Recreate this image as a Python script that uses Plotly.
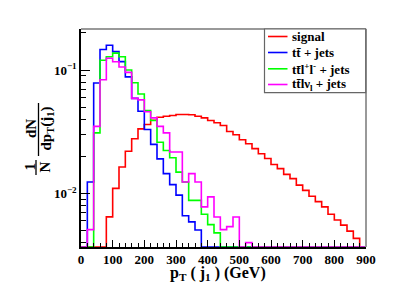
import plotly.graph_objects as go
import math

# ---------------- data ----------------
bin_edges = [20 * i for i in range(46)]  # 0..900 GeV, 20 GeV bins

signal = [0, 0, 0, 0, 0.00647, 0.0110, 0.0164, 0.0220, 0.0278, 0.0334,
          0.0362, 0.0392, 0.0415, 0.0423, 0.0428, 0.0436, 0.0436, 0.0434, 0.0423, 0.0410,
          0.0390, 0.0374, 0.0356, 0.0318, 0.0299, 0.0273, 0.0253, 0.0231, 0.0210, 0.0192,
          0.0172, 0.0159, 0.0143, 0.0132, 0.0117, 0.0106, 0.0095, 0.0086, 0.0078, 0.0068,
          0.0061, 0.00555, 0.00496, 0.00433, 0]

ttbar = [0, 0.0124, 0.0786, 0.1466, 0.159, 0.141, 0.117, 0.088, 0.059, 0.0464,
         0.033, 0.025, 0.0191, 0.0145, 0.0118, 0.0097, 0.0066, 0.0059, 0.00506, 0,
         0, 0, 0, 0, 0, 0, 0, 0, 0, 0,
         0, 0, 0, 0, 0, 0, 0, 0, 0, 0,
         0, 0, 0, 0, 0]

ttll = [0, 0, 0.031, 0.120, 0.128, 0.137, 0.128, 0.100, 0.079, 0.064,
        0.047, 0.039, 0.026, 0.0223, 0.0195, 0.0149, 0.0124, 0.0088, 0.0088, 0.0068,
        0.0056, 0.0048, 0, 0, 0, 0, 0, 0, 0, 0,
        0, 0, 0, 0, 0, 0, 0, 0, 0, 0,
        0, 0, 0, 0, 0]

ttlv = [0, 0.0051, 0.035, 0.0835, 0.1245, 0.1166, 0.106, 0.0957, 0.059, 0.0573,
        0.046, 0.041, 0.035, 0.031, 0.0217, 0.0217, 0.0124, 0.0145, 0.0124, 0.0078,
        0.0094, 0.00645, 0.0051, 0.0054, 0.00645, 0, 0.0040, 0, 0, 0,
        0, 0, 0, 0, 0, 0, 0, 0, 0, 0,
        0, 0, 0, 0, 0]

series_names = ["signal", "tt\u0304 + jets",
                "tt\u0304l<sup>+</sup>l<sup>-</sup> + jets",
                "tt\u0304l\u03bd<sub>l</sub> + jets"]
series_colors = ["#ff0000", "#0000ff", "#00ff00", "#ff00ff"]

x_tick_vals = [0, 100, 200, 300, 400, 500, 600, 700, 800, 900]
y_tick_vals = [0.01, 0.1]
y_tick_text = ["10<sup>\u22122</sup>", "10<sup>\u22121</sup>"]
y_minor_vals = [0.004, 0.005, 0.006, 0.007, 0.008, 0.009,
                0.02, 0.03, 0.04, 0.05, 0.06, 0.07, 0.08, 0.09, 0.2]

y_min, y_max = 0.00369, 0.215

# ---------------- layout geometry ----------------
W, H = 407, 291
L, T, PW, PH = 81, 29, 285, 218
R, B = W - L - PW, H - T - PH
FONT = "Liberation Serif"


def px(xp):
    return (xp - L) / PW


def py(yp):
    return (T + PH - yp) / PH


fig = go.Figure()
for vals, name, col in zip([signal, ttbar, ttll, ttlv], series_names, series_colors):
    yv = [max(v, y_min) for v in vals]
    yv = yv + [yv[-1]]
    fig.add_trace(go.Scatter(x=bin_edges, y=yv, mode="lines", name=name,
                             line=dict(color=col, width=1.6, shape="hv"),
                             showlegend=False, hoverinfo="skip"))

fig.update_layout(
    width=W, height=H,
    margin=dict(l=L, r=R, t=T, b=B),
    paper_bgcolor="white", plot_bgcolor="white",
    font=dict(family=FONT, color="black"),
    hovermode=False,
)
fig.update_xaxes(range=[0, 900], showgrid=False, zeroline=False,
                 showline=True, linecolor="black", linewidth=1.5,
                 ticks="inside", ticklen=7, tickcolor="black", tickwidth=1,
                 tickvals=x_tick_vals,
                 tickfont=dict(family=FONT, size=13, weight="bold"),
                 minor=dict(ticks="inside", ticklen=4, dtick=20, tickcolor="black"))
fig.update_yaxes(type="log", range=[math.log10(y_min), math.log10(y_max)],
                 showgrid=False, zeroline=False,
                 showline=True, linecolor="black", linewidth=1.5,
                 ticks="inside", ticklen=9, tickcolor="black", tickwidth=1,
                 tickvals=y_tick_vals, ticktext=y_tick_text,
                 tickfont=dict(family=FONT, size=13, weight="bold"),
                 minor=dict(ticks="inside", ticklen=5, tickmode="array",
                            tickvals=y_minor_vals, tickcolor="black"))

shapes = []
# gray top & right frame
shapes.append(dict(type="line", xref="paper", yref="paper", x0=0, x1=1, y0=1, y1=1,
                   line=dict(color="#999999", width=2)))
shapes.append(dict(type="line", xref="paper", yref="paper", x0=1, x1=1, y0=0, y1=1,
                   line=dict(color="#999999", width=2)))

# legend box
lx0, lx1, ly0, ly1 = 264.5, 365.7, 29, 92.7
shapes.append(dict(type="rect", xref="paper", yref="paper",
                   x0=px(lx0), x1=px(lx1), y0=py(ly1), y1=py(ly0),
                   line=dict(color="#666666", width=1.2), fillcolor="white"))
rows = [36.5, 52.5, 68.8, 84.5]
annotations = []
for name, col, ry in zip(series_names, series_colors, rows):
    shapes.append(dict(type="line", xref="paper", yref="paper",
                       x0=px(268), x1=px(287.5), y0=py(ry), y1=py(ry),
                       line=dict(color=col, width=1.6)))
    annotations.append(dict(xref="paper", yref="paper", x=px(289.5), y=py(ry),
                            xanchor="left", yanchor="middle", showarrow=False,
                            text=name, font=dict(family=FONT, size=13, weight="bold")))

# y-axis title as a fraction pair (rotated)
yfont = dict(family=FONT, size=15, weight="bold")
annotations.append(dict(xref="paper", yref="paper", x=px(31), y=py(129), textangle=-90,
                        showarrow=False, text="dN", font=yfont,
                        xanchor="center", yanchor="middle"))
annotations.append(dict(xref="paper", yref="paper", x=px(46.5), y=py(129), textangle=-90,
                        showarrow=False, text="dp<sub>T</sub>(j<sub>1</sub>)", font=yfont,
                        xanchor="center", yanchor="middle"))
shapes.append(dict(type="line", xref="paper", yref="paper",
                   x0=px(38.5), x1=px(38.5), y0=py(156), y1=py(103),
                   line=dict(color="black", width=1.3)))
annotations.append(dict(xref="paper", yref="paper", x=px(29.5), y=py(167), textangle=-90,
                        showarrow=False, text="1", font=yfont,
                        xanchor="center", yanchor="middle"))
annotations.append(dict(xref="paper", yref="paper", x=px(44.5), y=py(167), textangle=-90,
                        showarrow=False, text="N", font=yfont,
                        xanchor="center", yanchor="middle"))
shapes.append(dict(type="line", xref="paper", yref="paper",
                   x0=px(36), x1=px(36), y0=py(175), y1=py(160),
                   line=dict(color="black", width=1.3)))

# x-axis title
annotations.append(dict(xref="paper", yref="paper", x=px(218), y=py(273),
                        showarrow=False, text="p<sub>T</sub> ( j<sub>1</sub> ) (GeV)",
                        font=dict(family=FONT, size=16, weight="bold"),
                        xanchor="center", yanchor="middle"))

fig.update_layout(shapes=shapes, annotations=annotations)
fig.write_html("out.html", config={"displayModeBar": False},
               post_script="document.body.style.margin='0px';")
